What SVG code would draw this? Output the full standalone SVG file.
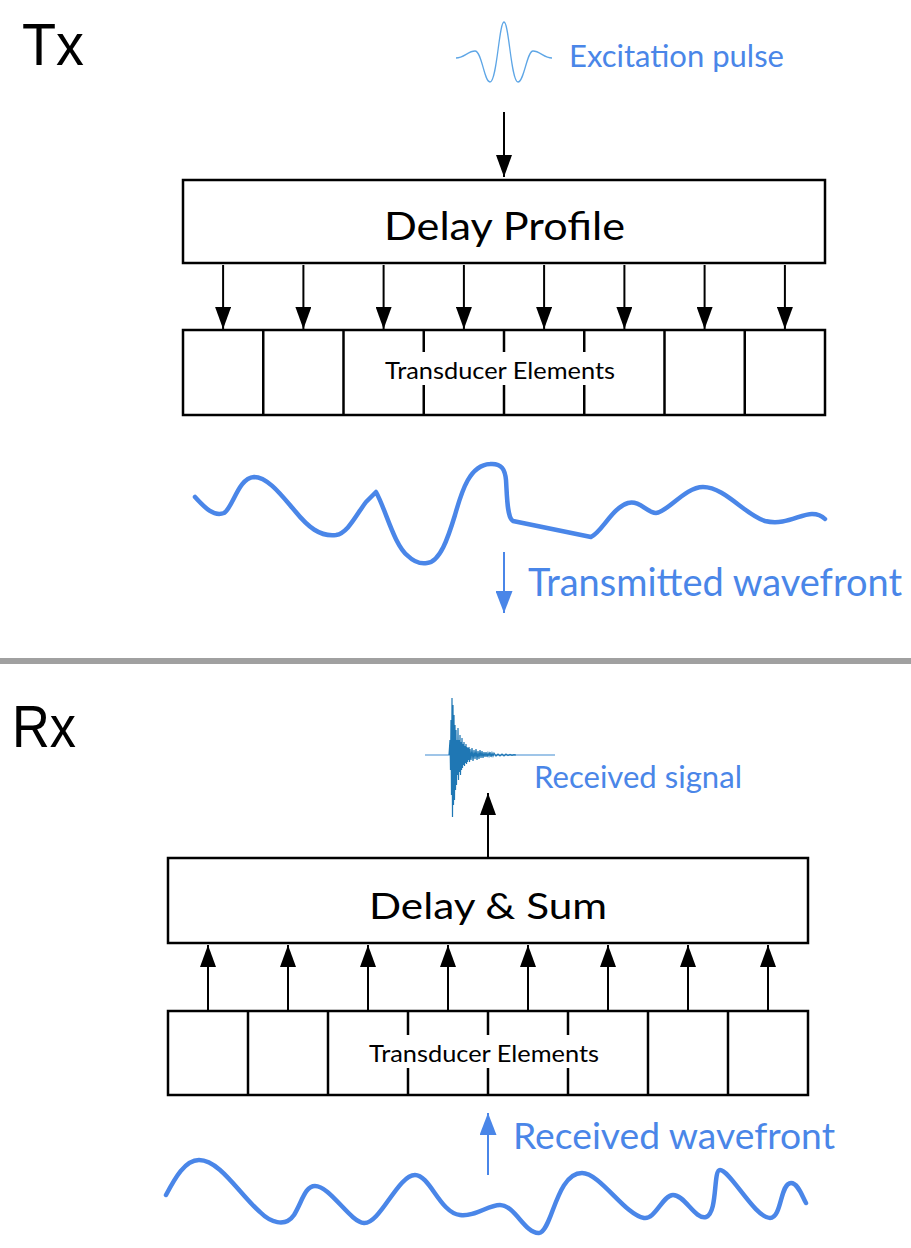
<svg xmlns="http://www.w3.org/2000/svg" width="911" height="1248" viewBox="0 0 911 1248">
<style>
.box{fill:#fff;stroke:#000;stroke-width:2.5}
.div{stroke:#000;stroke-width:2.5}
.conn{stroke:#000;stroke-width:2;fill:none}
.bconn{stroke:#4a86e8;stroke-width:2;fill:none}
.wave{fill:none;stroke:#4a86e8;stroke-width:4.5;stroke-linecap:round;stroke-linejoin:round}
.lbl{font-family:Lato,"Noto Sans",sans-serif;fill:#000}
.blbl{font-family:Lato,"Noto Sans",sans-serif;fill:#4a86e8}
.big{font-family:"Liberation Sans",Arial,sans-serif;fill:#000;font-size:60px}
</style>
<defs>
<marker id="ah" viewBox="0 0 22 16" markerWidth="22" markerHeight="16" refX="22" refY="8" orient="auto" markerUnits="userSpaceOnUse">
<path d="M0,0 L22,8 L0,16 z" fill="#000"/>
</marker>
<marker id="bah" viewBox="0 0 22 17" markerWidth="22" markerHeight="17" refX="22" refY="8.5" orient="auto" markerUnits="userSpaceOnUse">
<path d="M0,0 L22,8.5 L0,17 z" fill="#4a86e8"/>
</marker>
</defs>
<rect width="911" height="1248" fill="#fff"/>

<text class="big" x="22" y="65" textLength="62" lengthAdjust="spacingAndGlyphs">Tx</text>
<text class="big" x="12" y="747" textLength="64" lengthAdjust="spacingAndGlyphs">Rx</text>
<rect x="0" y="658" width="911" height="6" fill="#a0a0a0"/>

<g id="excitation">
<path d="M456,58 C464,58 468,51 475,51 C482,51 484,82 490,82 C497,82 499,22 504,22 C509,22 511,82 518,82 C524,82 527,51 533,51 C540,51 544,58 552,58" fill="none" stroke="#5ea6e6" stroke-width="1.3"/>
<text class="blbl" x="569" y="67" font-size="31" textLength="215" lengthAdjust="spacingAndGlyphs">Excitation pulse</text>
</g>

<g id="delay-profile">
<rect class="box" x="183" y="180" width="642" height="83"/>
<text class="lbl" x="504.5" y="240" font-size="38" text-anchor="middle" textLength="241" lengthAdjust="spacingAndGlyphs">Delay Profile</text>
</g>

<g id="tx-transducer">
<rect class="box" x="183" y="330" width="642" height="85"/>
<line class="div" x1="263.25" y1="330" x2="263.25" y2="415"/>
<line class="div" x1="343.5" y1="330" x2="343.5" y2="415"/>
<line class="div" x1="423.75" y1="330" x2="423.75" y2="352"/>
<line class="div" x1="423.75" y1="385" x2="423.75" y2="415"/>
<line class="div" x1="504" y1="330" x2="504" y2="352"/>
<line class="div" x1="504" y1="385" x2="504" y2="415"/>
<line class="div" x1="584.25" y1="330" x2="584.25" y2="352"/>
<line class="div" x1="584.25" y1="385" x2="584.25" y2="415"/>
<line class="div" x1="664.5" y1="330" x2="664.5" y2="415"/>
<line class="div" x1="744.75" y1="330" x2="744.75" y2="415"/>
<text class="lbl" x="500" y="379" font-size="23" text-anchor="middle" textLength="230" lengthAdjust="spacingAndGlyphs">Transducer Elements</text>
</g>

<g id="tx-wavefront">
<path class="wave" d="M195,497 C205,508 214,517 224,513 C233,508 238,478 254,477 C268,477 282,496 295,511 C308,527 320,537 336,535 C348,533 356,515 366,502 L376,492 C386,510 394,545 408,556 C414,562 420,564 427,563 C440,562 448,538 455,515 C462,490 470,465 490,464 C502,463 505,470 506,480 C507,495 507,518 513,521 L591,537 C602,532 612,508 628,503 C640,500 647,513 656,513 C668,512 685,487 703,487 C725,487 745,515 765,521 C785,526 800,514 812,514 C818,514 822,516 825,519"/>
<text class="blbl" x="528" y="596" font-size="38" textLength="374" lengthAdjust="spacingAndGlyphs">Transmitted wavefront</text>
</g>

<g id="received-signal">
<line x1="425" y1="755" x2="555" y2="755" stroke="#7fb2e0" stroke-width="1.3"/>
<polyline fill="none" stroke="#1f77b4" stroke-width="1.2" points="449,755 450,740 450.5,770 451,720 451.5,795 452,698 452.5,817 453,705 453.5,805 454,715 454.5,800 455,725 455.5,790 456,730 456.5,785 457,740 457.5,775 458,728 458.5,780 459,740 459.5,772 460,735 460.5,775 461,742 461.5,770 462,738 462.5,768 463,744 463.5,765 464,742 464.5,766 465,746 465.5,763 466,744 466.5,764 467,747 467.5,762 468,748 468.5,760 469,747 469.5,762 470,749 471,760 472,748 473,761 474,750 475,759 476,749 477,760 478,751 479,759 480,750 481,758 482,751 483,758 484,752 485,757 486,752 487,757 488,753 489,756 490,752 491,757 492,753 493,756 494,753 496,756 498,754 500,756 502,754 504,756 506,754 508,755.6 510,754.4 512,755.4 514,754.6 516,755"/>
<text class="blbl" x="534" y="788" font-size="31" textLength="208" lengthAdjust="spacingAndGlyphs">Received signal</text>
</g>

<g id="delay-sum">
<rect class="box" x="168" y="858" width="640" height="85"/>
<text class="lbl" x="488" y="919" font-size="37" text-anchor="middle" textLength="238" lengthAdjust="spacingAndGlyphs">Delay &amp; Sum</text>
</g>

<g id="rx-transducer">
<rect class="box" x="168" y="1011" width="640" height="84"/>
<line class="div" x1="248" y1="1011" x2="248" y2="1095"/>
<line class="div" x1="328" y1="1011" x2="328" y2="1095"/>
<line class="div" x1="408" y1="1011" x2="408" y2="1035"/>
<line class="div" x1="408" y1="1068" x2="408" y2="1095"/>
<line class="div" x1="488" y1="1011" x2="488" y2="1035"/>
<line class="div" x1="488" y1="1068" x2="488" y2="1095"/>
<line class="div" x1="568" y1="1011" x2="568" y2="1035"/>
<line class="div" x1="568" y1="1068" x2="568" y2="1095"/>
<line class="div" x1="648" y1="1011" x2="648" y2="1095"/>
<line class="div" x1="728" y1="1011" x2="728" y2="1095"/>
<text class="lbl" x="484" y="1062" font-size="23" text-anchor="middle" textLength="230" lengthAdjust="spacingAndGlyphs">Transducer Elements</text>
</g>

<g id="rx-wavefront">
<path class="wave" d="M166,1195 C175,1178 185,1160 199,1160 C220,1160 240,1195 260,1212 C270,1222 285,1228 294,1215 C302,1202 305,1186 315,1186 C330,1186 350,1222 364,1223 C380,1224 398,1175 415,1175 C430,1175 440,1213 460,1215 C475,1217 488,1205 500,1205 C515,1205 525,1234 539,1233 C552,1232 556,1173 582,1173 C600,1173 625,1215 644,1218 C655,1220 663,1195 673,1195 C685,1195 695,1220 706,1217 C718,1213 713,1170 720,1170 C730,1170 755,1218 770,1218 C782,1218 780,1183 791,1183 C798,1183 802,1196 806,1203"/>
<text class="blbl" x="513" y="1149" font-size="36" textLength="322" lengthAdjust="spacingAndGlyphs">Received wavefront</text>
</g>

<g id="connectors">
<line class="conn" x1="504" y1="112" x2="504" y2="177" marker-end="url(#ah)"/>
<line class="conn" x1="223.1" y1="265" x2="223.1" y2="329" marker-end="url(#ah)"/>
<line class="conn" x1="303.4" y1="265" x2="303.4" y2="329" marker-end="url(#ah)"/>
<line class="conn" x1="383.6" y1="265" x2="383.6" y2="329" marker-end="url(#ah)"/>
<line class="conn" x1="463.9" y1="265" x2="463.9" y2="329" marker-end="url(#ah)"/>
<line class="conn" x1="544.1" y1="265" x2="544.1" y2="329" marker-end="url(#ah)"/>
<line class="conn" x1="624.4" y1="265" x2="624.4" y2="329" marker-end="url(#ah)"/>
<line class="conn" x1="704.6" y1="265" x2="704.6" y2="329" marker-end="url(#ah)"/>
<line class="conn" x1="784.9" y1="265" x2="784.9" y2="329" marker-end="url(#ah)"/>
<line class="bconn" x1="504" y1="552" x2="504" y2="613" marker-end="url(#bah)"/>
<line class="conn" x1="488" y1="857" x2="488" y2="793" marker-end="url(#ah)"/>
<line class="conn" x1="208" y1="1010" x2="208" y2="945" marker-end="url(#ah)"/>
<line class="conn" x1="288" y1="1010" x2="288" y2="945" marker-end="url(#ah)"/>
<line class="conn" x1="368" y1="1010" x2="368" y2="945" marker-end="url(#ah)"/>
<line class="conn" x1="448" y1="1010" x2="448" y2="945" marker-end="url(#ah)"/>
<line class="conn" x1="528" y1="1010" x2="528" y2="945" marker-end="url(#ah)"/>
<line class="conn" x1="608" y1="1010" x2="608" y2="945" marker-end="url(#ah)"/>
<line class="conn" x1="688" y1="1010" x2="688" y2="945" marker-end="url(#ah)"/>
<line class="conn" x1="768" y1="1010" x2="768" y2="945" marker-end="url(#ah)"/>
<line class="bconn" x1="488" y1="1175" x2="488" y2="1113" marker-end="url(#bah)"/>
</g>
</svg>
